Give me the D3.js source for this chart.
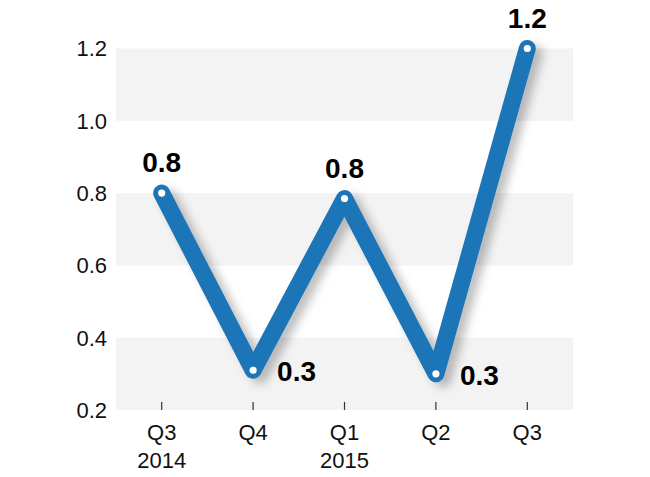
<!DOCTYPE html>
<html>
<head>
<meta charset="utf-8">
<script src="https://cdn.jsdelivr.net/npm/d3@7"></script>
<style>
html,body{margin:0;padding:0;background:#fff;}
svg{display:block;font-family:"Liberation Sans",Arial,Helvetica,sans-serif;}
</style>
</head>
<body>
<svg id="chart" width="650" height="477"></svg>
<script>
const quarters = ["Q3", "Q4", "Q1", "Q2", "Q3b"];
const quarterLabels = ["Q3", "Q4", "Q1", "Q2", "Q3"];
const yearLabels = ["2014", "", "2015", "", ""];
const values = [0.8, 0.31, 0.785, 0.3, 1.2];
const valueLabels = ["0.8", "0.3", "0.8", "0.3", "1.2"];
const labelSide = ["top", "right", "top", "right", "top"];
const yTicks = [0.2, 0.4, 0.6, 0.8, 1.0, 1.2];

(function () {
const svg = d3.select("#chart");
const plotLeft = 116, plotRight = 573, plotTop = 48.5, plotBottom = 410;

const x = d3.scalePoint().domain(quarters).range([plotLeft, plotRight]).padding(0.5);
const y = d3.scaleLinear().domain([0.2, 1.2]).range([plotBottom, plotTop]);

const defs = svg.append("defs");
const f = defs.append("filter").attr("id", "shadow")
  .attr("x", "-20%").attr("y", "-20%").attr("width", "140%").attr("height", "140%");
f.append("feDropShadow").attr("dx", 7).attr("dy", 5).attr("stdDeviation", 5)
  .attr("flood-color", "#000").attr("flood-opacity", 0.25);

// bands
const bands = [[1.0, 1.2], [0.6, 0.8], [0.2, 0.4]];
svg.append("g").selectAll("rect").data(bands).join("rect")
  .attr("x", plotLeft).attr("width", plotRight - plotLeft)
  .attr("y", d => y(d[1])).attr("height", d => y(d[0]) - y(d[1]))
  .attr("fill", "#f3f3f3");

// y axis labels
svg.append("g").selectAll("text").data(yTicks).join("text")
  .attr("x", 107).attr("y", d => y(d)).attr("dy", "0.36em")
  .attr("text-anchor", "end").attr("font-size", 22).attr("fill", "#111")
  .text(d => d3.format(".1f")(d));

// x ticks
svg.append("g").selectAll("line").data(quarters).join("line")
  .attr("x1", d => x(d)).attr("x2", d => x(d))
  .attr("y1", plotBottom - 8).attr("y2", plotBottom)
  .attr("stroke", "#333").attr("stroke-width", 1.2);

// x labels
const xl = svg.append("g").selectAll("g").data(quarters).join("g");
xl.append("text").attr("x", d => x(d)).attr("y", 440)
  .attr("text-anchor", "middle").attr("font-size", 22).attr("fill", "#111")
  .text((d, i) => quarterLabels[i]);
xl.append("text").attr("x", d => x(d)).attr("y", 468)
  .attr("text-anchor", "middle").attr("font-size", 22).attr("fill", "#111")
  .text((d, i) => yearLabels[i]);

// line
const line = d3.line().x((d, i) => x(quarters[i])).y(d => y(d));
svg.append("path").datum(values)
  .attr("d", line).attr("fill", "none")
  .attr("stroke", "#1d74b6").attr("stroke-width", 17)
  .attr("stroke-linejoin", "round").attr("stroke-linecap", "round")
  .attr("filter", "url(#shadow)");

// points
svg.append("g").selectAll("circle").data(values).join("circle")
  .attr("cx", (d, i) => x(quarters[i])).attr("cy", d => y(d))
  .attr("r", 3.6).attr("fill", "#fff");

// value labels
svg.append("g").selectAll("text").data(values).join("text")
  .attr("x", (d, i) => labelSide[i] === "top" ? x(quarters[i]) : x(quarters[i]) + 24)
  .attr("y", (d, i) => labelSide[i] === "top" ? y(d) - 21 : y(d) + 11)
  .attr("text-anchor", (d, i) => labelSide[i] === "top" ? "middle" : "start")
  .attr("font-size", 28).attr("font-weight", "bold").attr("fill", "#000")
  .text((d, i) => valueLabels[i]);
})();
</script>
</body>
</html>
